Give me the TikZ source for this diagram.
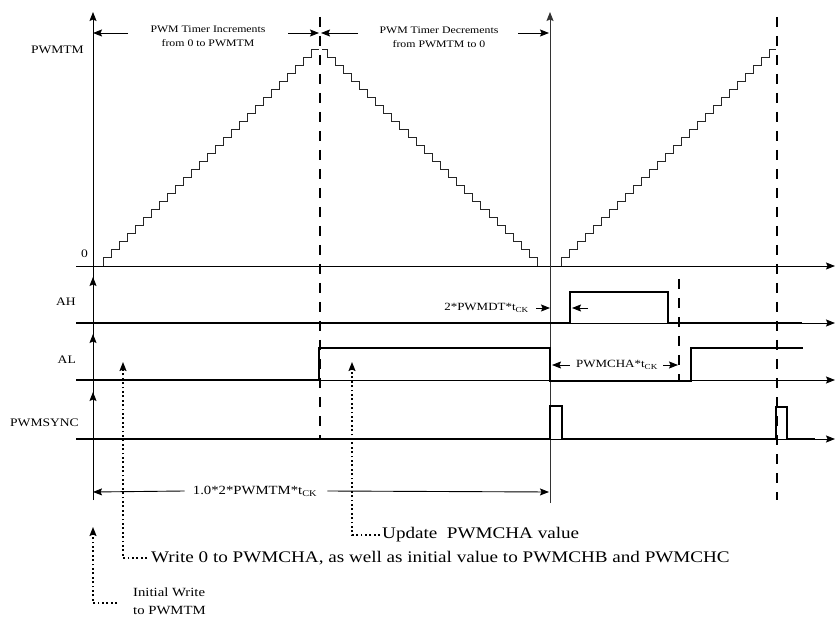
\documentclass[tikz,border=0pt]{standalone}
\usepackage{fontspec}
\setmainfont{Liberation Serif}[FakeStretch=1.18]
\usetikzlibrary{arrows.meta}

\tikzset{
  tip/.style={-{Stealth[length=9pt,width=7pt,inset=1.5pt]}},
  axisline/.style={line width=0.9pt},
  sigline/.style={line width=2.4pt},
  stairline/.style={line width=1pt, black!85},
  dashline/.style={line width=2pt, dash pattern=on 10pt off 9pt},
  dotline/.style={line width=1.5pt, dash pattern=on 1.8pt off 2.6pt},
  lbl/.style={inner sep=0pt, font=\fontsize{11.5}{13}\selectfont},
  toptxt/.style={inner sep=0pt, align=center, font=\fontsize{10}{14}\selectfont},
  anno/.style={inner sep=0pt, font=\fontsize{11}{13}\selectfont},
  midtxt/.style={inner sep=0pt, align=left, font=\fontsize{12.5}{18}\selectfont},
  bigtxt/.style={inner sep=0pt, font=\fontsize{16.2}{18}\selectfont}
}

\begin{document}
\begin{tikzpicture}[x=1pt,y=-1pt]
    \useasboundingbox (0,0) rectangle (835,617);

    % axes
    \coordinate (ybot) at (93,500);
    \coordinate (ytop) at (93,12);
    \draw[axisline,tip] (ybot) -- (ytop);
    \draw[axisline,tip] (93,300) -- (93,277);
    \draw[axisline,tip] (93,360) -- (93,334);
    \draw[axisline,tip] (93,415) -- (93,392);
    \foreach \y in {266,323,380,439}
        \draw[axisline,tip] (76,\y) -- (835,\y);

    % period markers
    \draw[dashline] (320,17) -- (320,440);
    \draw[dashline] (777,17) -- (777,500);
    \draw[dashline] (679,279) -- (679,380);
    \draw[axisline,black!80,tip] (550,503) -- (550,12);

    % timer ramps
    \draw[stairline] (103,266) \foreach \i in {1,...,26}{ -- ++(0,-8) -- ++(8,0)} -- ++(0,-8) -- (319,50);
    \draw[stairline] (322,50) -- (327,50) \foreach \i in {1,...,26}{ -- ++(0,8) -- ++(8.1,0)} -- ++(0,8);
    \draw[stairline] (561,266) \foreach \i in {1,...,26}{ -- ++(0,-8) -- ++(8,0)} -- ++(0,-8) -- (776,50);

    % outputs
    \draw[sigline] (76,323) -- (570,323) -- (570,292) -- (668,292) -- (668,323) -- (802,323);
    \draw[sigline] (76,380) -- (319,380) -- (319,348) -- (550,348) -- (550,381) -- (691,381) -- (691,348) -- (803,348);
    \draw[sigline] (76,439) -- (550,439) -- (550,406) -- (562,406) -- (562,439) -- (776,439) -- (776,407) -- (787,407) -- (787,439) -- (815,439);

    % signal names
    \node[lbl,anchor=east] (pwmtm) at (84,50) {PWMTM};
    \node[lbl,anchor=east] (zero) at (88,254) {0};
    \node[lbl,anchor=east] (ah) at (76,302) {AH};
    \node[lbl,anchor=east] (al) at (76,360) {AL};
    \node[lbl,anchor=east] (sync) at (79,423) {PWMSYNC};

    % counting direction
    \node[toptxt] (inc) at (208,36) {PWM Timer Increments\\from 0 to PWMTM};
    \node[toptxt] (dec) at (439,37) {PWM Timer Decrements\\from PWMTM to 0};
    \coordinate (incl) at (128,33);
    \coordinate (incr) at (288,33);
    \coordinate (decl) at (358,33);
    \coordinate (decr) at (518,33);
    \draw[axisline,tip] (incl) -- (ytop |- incl);
    \draw[axisline,tip] (incr) -- (319,33);
    \draw[axisline,tip] (decl) -- (321,33);
    \draw[axisline,tip] (decr) -- (549,33);

    % dead time and duty
    \node[anno,anchor=east] (dt) at (529,308) {2*PWMDT*t\textsubscript{CK}};
    \draw[axisline,tip] ([xshift=7pt]dt.east) -- (550,308);
    \draw[axisline,tip] (588,308) -- (572,308);
    \node[anno] (cha) at (617,365) {PWMCHA*t\textsubscript{CK}};
    \draw[axisline,tip] ([xshift=-6pt]cha.west) -- (552,365);
    \draw[axisline,tip] ([xshift=5pt]cha.east) -- (678,365);

    % period
    \node[midtxt] (per) at (255,491) {1.0*2*PWMTM*t\textsubscript{CK}};
    \draw[axisline,tip] ([xshift=-8pt]per.west) -- (ybot |- 0,492);
    \draw[axisline,tip] ([xshift=10pt]per.east) -- (549,492);

    % register writes
    \node[midtxt,anchor=west] (init) at (133,601) {Initial Write\\to PWMTM};
    \node[bigtxt,anchor=west] (wr) at (151,558) {Write 0 to PWMCHA, as well as initial value to PWMCHB and PWMCHC};
    \node[bigtxt,anchor=west] (upd) at (382,535) {Update\ \ PWMCHA value};
    \coordinate (inittip) at (93,527);
    \coordinate (wrtip) at (123,362);
    \coordinate (updtip) at (352,362);
    \draw[dotline,tip] ([xshift=-16pt,yshift=-2pt]init.west) -| (inittip);
    \draw[dotline,tip] ([xshift=-4pt]wr.west) -| (wrtip);
    \draw[dotline,tip] ([xshift=-2pt]upd.west) -| (updtip);
\end{tikzpicture}
\end{document}
